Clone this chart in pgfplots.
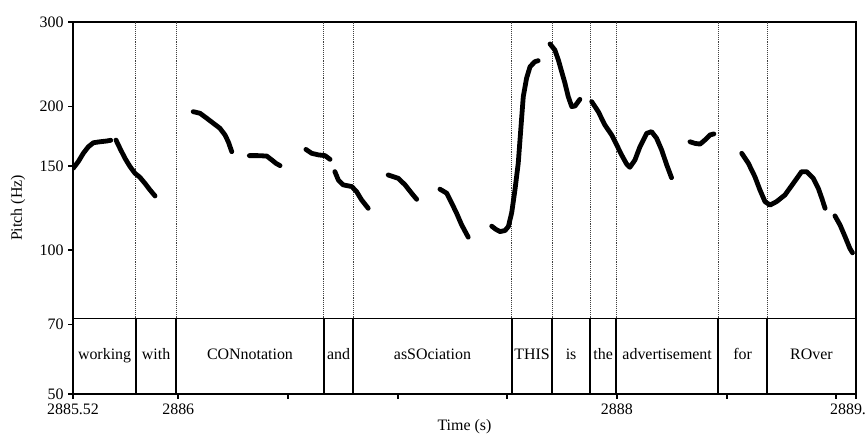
\documentclass[border=0pt]{standalone}
\usepackage{fontspec}
\setmainfont{Liberation Serif}
\usepackage{pgfplots}
\pgfplotsset{compat=1.18}
\pgfplotsset{
  pitch/.style={black, line width=4.8bp, line cap=round, line join=round, no markers},
  tierline/.style={black, line width=1.3bp, no markers},
  dotline/.style={black!75, line width=0.9bp, densely dotted, no markers},
}
\newcommand{\tl}{\fontsize{16}{19}\selectfont}
\begin{document}
\begin{tikzpicture}
\begin{axis}[
  at={(0,0)}, anchor=south west,
  scale only axis, width=783bp, height=372bp,
  xmin=2885.52, xmax=2889.09,
  ymode=log, ymin=50, ymax=300,
  axis line style={line width=2.5bp},
  tick align=outside,
  xtick pos=bottom, ytick pos=left,
  major tick length=5bp, minor tick length=5bp,
  xtick={2885.52,2886,2888,2889.09},
  xticklabels={2885.52,2886,2888,2889.09},
  minor xtick={2886.5,2887,2887.5,2888.5,2889},
  xtick style={line width=2bp, black},
  ytick={50,70,100,150,200,300},
  yticklabels={50,70,100,150,200,300},
  minor ytick={},
  ytick style={line width=1.3bp, black},
  log ticks with fixed point,
  /pgf/number format/assume math mode=true,
  ticklabel style={font=\tl},
  xticklabel style={yshift=-1bp},
  yticklabel style={xshift=-1bp},
  xlabel={Time (s)}, ylabel={Pitch (Hz)},
  every axis x label/.style={at={([yshift=-33bp]axis description cs:0.5,0)}, anchor=center, font=\tl},
  every axis y label/.style={at={([xshift=-55bp]axis description cs:0,0.5)}, anchor=center, rotate=90, font=\tl},
  clip=true,
]
% text tier
\addplot[tierline] coordinates {(2885.52,72) (2889.09,72)};
\pgfplotsinvokeforeach{2885.807,2885.990,2886.664,2886.797,2887.521,2887.704,2887.877,2887.996,2888.461,2888.684}{
  \addplot[tierline] coordinates {(#1,50) (#1,72)};
  \addplot[dotline] coordinates {(#1,72) (#1,305)};
}
\node[anchor=base, font=\tl] at (axis cs:2885.664,58.9) {working};
\node[anchor=base, font=\tl] at (axis cs:2885.899,58.9) {with};
\node[anchor=base, font=\tl] at (axis cs:2886.327,58.9) {CONnotation};
\node[anchor=base, font=\tl] at (axis cs:2886.731,58.9) {and};
\node[anchor=base, font=\tl] at (axis cs:2887.159,58.9) {asSOciation};
\node[anchor=base, font=\tl] at (axis cs:2887.613,58.9) {THIS};
\node[anchor=base, font=\tl] at (axis cs:2887.791,58.9) {is};
\node[anchor=base, font=\tl] at (axis cs:2887.937,58.9) {the};
\node[anchor=base, font=\tl] at (axis cs:2888.229,58.9) {advertisement};
\node[anchor=base, font=\tl] at (axis cs:2888.573,58.9) {for};
\node[anchor=base, font=\tl] at (axis cs:2888.887,58.9) {ROver};
% pitch contour
\addplot[pitch] coordinates {(2885.521,148.3) (2885.544,153.1) (2885.567,159.4) (2885.590,164.5) (2885.613,167.7) (2885.643,168.5) (2885.674,169.1) (2885.692,169.7)};
\addplot[pitch] coordinates {(2885.716,169.9) (2885.734,163.3) (2885.757,155.6) (2885.780,149.5) (2885.803,144.7) (2885.825,142.0) (2885.848,137.9) (2885.871,133.6) (2885.894,129.8)};
\addplot[pitch] coordinates {(2886.068,194.8) (2886.099,193.3) (2886.130,188.7) (2886.160,184.2) (2886.190,179.8) (2886.213,174.1) (2886.228,168.5) (2886.244,160.6)};
\addplot[pitch] coordinates {(2886.324,157.6) (2886.363,157.6) (2886.403,157.3) (2886.427,154.3) (2886.445,151.9) (2886.464,150.2)};
\addplot[pitch] coordinates {(2886.582,162.4) (2886.608,159.4) (2886.638,158.2) (2886.669,157.6) (2886.692,154.8)};
\addplot[pitch] coordinates {(2886.714,145.9) (2886.730,140.1) (2886.752,136.9) (2886.791,135.8) (2886.813,132.5) (2886.836,127.3) (2886.866,122.3)};
\addplot[pitch] coordinates {(2886.957,143.6) (2887.003,141.3) (2887.034,136.9) (2887.064,131.5) (2887.087,127.7)};
\addplot[pitch] coordinates {(2887.193,134.1) (2887.224,131.5) (2887.247,125.3) (2887.269,119.4) (2887.292,112.9) (2887.322,106.4)};
\addplot[pitch] coordinates {(2887.429,112.2) (2887.448,110.5) (2887.467,109.3) (2887.490,109.9) (2887.505,112.0) (2887.520,119.6) (2887.535,133.6) (2887.550,151.9) (2887.558,169.9) (2887.566,190.2) (2887.573,209.4) (2887.588,228.8) (2887.604,242.0) (2887.626,247.8) (2887.641,249.0)};
\addplot[pitch] coordinates {(2887.695,269.9) (2887.717,262.1) (2887.733,249.8) (2887.748,236.2) (2887.763,223.4) (2887.778,209.4) (2887.794,199.6) (2887.809,200.2) (2887.831,206.7)};
\addplot[pitch] coordinates {(2887.885,204.4) (2887.915,194.8) (2887.945,182.7) (2887.976,174.1) (2887.999,165.9) (2888.021,158.2) (2888.044,151.4) (2888.059,149.0) (2888.082,154.3) (2888.105,164.5) (2888.136,175.5) (2888.158,176.9) (2888.181,171.3) (2888.204,161.9) (2888.227,150.7) (2888.249,141.7)};
\addplot[pitch] coordinates {(2888.333,168.5) (2888.356,167.2) (2888.379,166.6) (2888.401,169.9) (2888.424,174.1) (2888.442,175.0)};
\addplot[pitch] coordinates {(2888.569,159.4) (2888.599,152.0) (2888.629,142.4) (2888.652,133.6) (2888.675,126.3) (2888.698,124.2) (2888.728,126.3) (2888.766,130.4) (2888.804,137.9) (2888.842,145.9) (2888.865,145.9) (2888.895,141.3) (2888.918,134.7) (2888.934,128.4) (2888.949,122.3)};
\addplot[pitch] coordinates {(2888.994,117.9) (2889.017,112.9) (2889.040,106.7) (2889.062,100.8) (2889.074,98.7)};
\end{axis}
\pgfresetboundingbox
\useasboundingbox (-73bp,-40bp) rectangle (793bp,394bp);
\end{tikzpicture}
\end{document}
